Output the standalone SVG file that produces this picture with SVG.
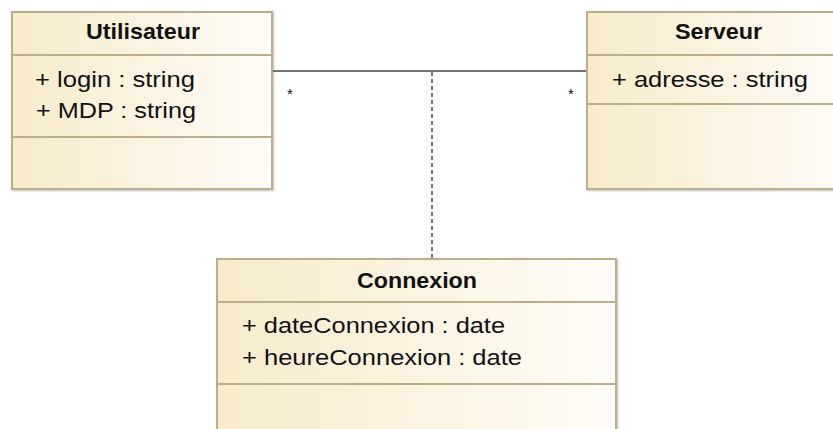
<svg xmlns="http://www.w3.org/2000/svg" width="833" height="429" viewBox="0 0 833 429">
<defs>
<linearGradient id="fill" x1="0" y1="0" x2="1" y2="0">
<stop offset="0" stop-color="#f8ebcb"/>
<stop offset="1" stop-color="#fefcf7"/>
</linearGradient>
<filter id="sh" x="-5%" y="-5%" width="110%" height="110%">
<feDropShadow dx="1" dy="1" stdDeviation="0.8" flood-color="#000" flood-opacity="0.25"/>
</filter>
</defs>
<style>
.box{fill:url(#fill);stroke:#bcae8c;stroke-width:2;filter:url(#sh)}
.sep{stroke:#bcae8c;stroke-width:2}
.title{font-family:"Liberation Sans",Arial,sans-serif;font-weight:bold;font-size:22px;fill:#111;text-anchor:middle}
.attr{font-family:"Liberation Sans",Arial,sans-serif;font-size:21.5px;fill:#111}
.mult{font-family:"Liberation Sans",Arial,sans-serif;font-size:15px;fill:#111}
.assoc{stroke:#444;stroke-width:1.6;fill:none}
.dash{stroke:#777;stroke-width:2;stroke-dasharray:4 3;fill:none}
</style>
<g id="connectors">
<line class="assoc" x1="272" y1="71" x2="587" y2="71"/>
<line class="dash" x1="432" y1="72" x2="432" y2="259"/>
<text class="mult" x="287" y="99">*</text>
<text class="mult" x="568" y="99">*</text>
</g>
<g id="Utilisateur">
<rect class="box" x="12" y="12" width="260" height="177"/>
<line class="sep" x1="12" y1="55" x2="272" y2="55"/>
<line class="sep" x1="12" y1="137" x2="272" y2="137"/>
<text class="title" x="143" y="39" textLength="114" lengthAdjust="spacingAndGlyphs">Utilisateur</text>
<text class="attr" x="35" y="87" textLength="160" lengthAdjust="spacingAndGlyphs">+ login : string</text>
<text class="attr" x="36" y="118" textLength="160" lengthAdjust="spacingAndGlyphs">+ MDP : string</text>
</g>
<g id="Serveur">
<rect class="box" x="587" y="12" width="262" height="177"/>
<line class="sep" x1="587" y1="55" x2="849" y2="55"/>
<line class="sep" x1="587" y1="104" x2="849" y2="104"/>
<text class="title" x="718.5" y="39" textLength="87" lengthAdjust="spacingAndGlyphs">Serveur</text>
<text class="attr" x="612" y="87" textLength="196" lengthAdjust="spacingAndGlyphs">+ adresse : string</text>
</g>
<g id="Connexion">
<rect class="box" x="217" y="259" width="399" height="190"/>
<line class="sep" x1="217" y1="302" x2="616" y2="302"/>
<line class="sep" x1="217" y1="384" x2="616" y2="384"/>
<text class="title" x="417" y="288" textLength="120" lengthAdjust="spacingAndGlyphs">Connexion</text>
<text class="attr" x="242" y="333" textLength="263" lengthAdjust="spacingAndGlyphs">+ dateConnexion : date</text>
<text class="attr" x="242" y="365" textLength="280" lengthAdjust="spacingAndGlyphs">+ heureConnexion : date</text>
</g>
</svg>
